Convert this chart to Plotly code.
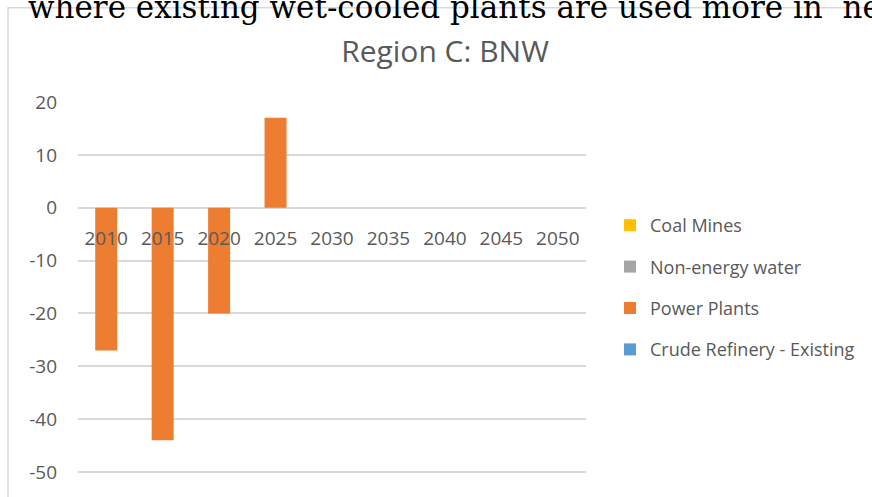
import plotly.graph_objects as go

# data
years = ["2010", "2015", "2020", "2025", "2030", "2035", "2040", "2045", "2050"]
coal_mines = [0, 0, 0, 0, 0, 0, 0, 0, 0]
non_energy_water = [0, 0, 0, 0, 0, 0, 0, 0, 0]
power_plants = [-27, -44, -20, 17, 0, 0, 0, 0, 0]
crude_refinery = [0, 0, 0, 0, 0, 0, 0, 0, 0]

y_tick_values = [20, 10, 0, -10, -20, -30, -40, -50]
y_tick_labels = ["20", "10", "0", "-10", "-20", "-30", "-40", "-50"]

series = [
    ("Coal Mines", coal_mines, "#FFC000"),
    ("Non-energy water", non_energy_water, "#A5A5A5"),
    ("Power Plants", power_plants, "#ED7D31"),
    ("Crude Refinery - Existing", crude_refinery, "#5B9BD5"),
]

W, H = 872, 497
L, R, T, B = 78, 286, 102, 21
PW, PH = W - L - R, H - T - B


def px_x(x):
    return (x - L) / PW


def px_y(y):
    return (H - y - B) / PH


fig = go.Figure()
for name, vals, color in series:
    fig.add_trace(go.Bar(
        x=years, y=vals, name=name, legendgroup=name,
        marker=dict(color=color, line=dict(width=0)),
    ))

text_color = "#595959"
grid = "#d9d9d9"

fig.update_layout(
    width=W, height=H,
    margin=dict(l=L, r=R, t=T, b=B),
    paper_bgcolor="white", plot_bgcolor="white",
    barmode="relative",
    bargap=0.61,
    font=dict(family="Open Sans", color=text_color),
    title=dict(text="Region C: BNW", x=445 / W, xref="container", xanchor="center",
               y=1 - 51 / H, yref="container", yanchor="middle",
               font=dict(size=30, color=text_color)),
    legend=dict(x=px_x(610), xanchor="left", y=0.5, yanchor="middle",
                font=dict(size=18, color=text_color), tracegroupgap=15,
                itemwidth=30, traceorder="grouped", bgcolor="rgba(0,0,0,0)"),
    showlegend=True,
)

fig.update_xaxes(
    type="category", anchor="free", position=50.2 / 70.2, showline=False,
    showgrid=False, zeroline=False, ticks="", ticklabelstandoff=17,
    tickfont=dict(size=19, color=text_color),
)
fig.update_yaxes(
    range=[-50.2, 20], tickvals=y_tick_values, ticktext=y_tick_labels,
    showgrid=True, gridcolor=grid, gridwidth=1.5,
    zeroline=False, ticks="", ticklabelstandoff=20,
    tickfont=dict(size=19, color=text_color),
)

# chart frame, partially visible at top-left
fig.add_shape(type="rect", xref="paper", yref="paper",
              x0=px_x(8), x1=px_x(W + 20), y0=px_y(H + 20), y1=px_y(7),
              line=dict(color=grid, width=1.5), fillcolor="rgba(0,0,0,0)", layer="below")

# text from the page behind the chart, cut off by the top edge
fig.add_annotation(
    text="where existing wet-cooled plants are used more in  ne",
    xref="paper", yref="paper", x=px_x(26), y=px_y(6), xanchor="left", yanchor="middle",
    showarrow=False, font=dict(family="DejaVu Serif", size=31, color="#000000"),
)

fig.write_html("out.html", config={"displayModeBar": False},
               post_script="document.body.style.margin='0px';")
